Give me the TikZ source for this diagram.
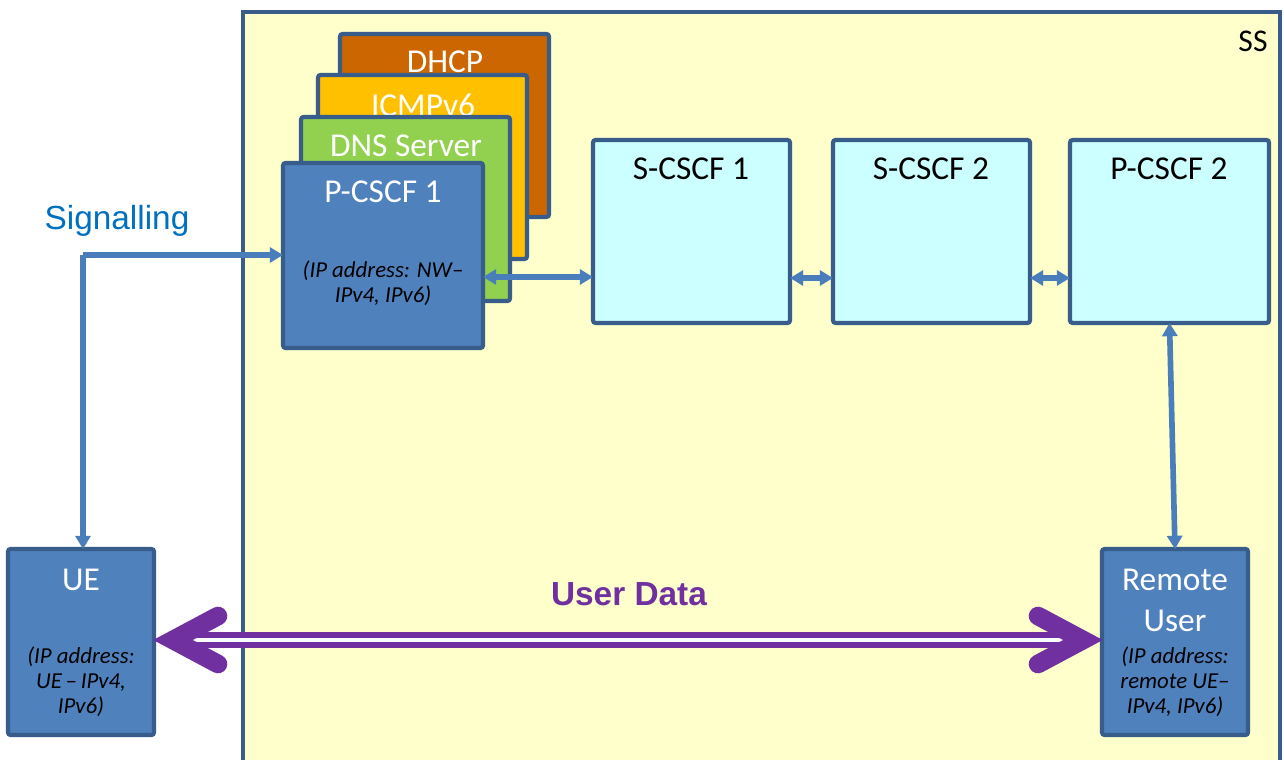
\documentclass[tikz,border=0pt]{standalone}
\usepackage{fontspec}
\setmainfont{Carlito}
\newfontfamily\arialfont{Liberation Sans}
\usetikzlibrary{arrows.meta,fit,calc}
\definecolor{bordblue}{HTML}{385D8A}
\definecolor{pblue}{HTML}{4F81BD}
\definecolor{arrowblue}{HTML}{4A7EBB}
\definecolor{cyanfill}{HTML}{CCFFFF}
\definecolor{ssfill}{HTML}{FFFFCC}
\definecolor{dhcpc}{HTML}{CC6600}
\definecolor{icmpc}{HTML}{FFC000}
\definecolor{dnsc}{HTML}{92D050}
\definecolor{udpurple}{HTML}{7030A0}
\definecolor{sigblue}{HTML}{0070C0}
\tikzset{
  box/.style={draw=bordblue, line width=2.4pt, rounded corners=1.5pt, inner sep=0pt, outer sep=0pt},
  ssbox/.style={draw=bordblue, fill=ssfill, line width=2.6pt, inner sep=0pt, outer sep=0pt},
  ttl/.style={font=\fontsize{19}{23}\selectfont, anchor=base, inner sep=0pt},
  itl/.style={font=\itshape\fontsize{13}{15}\selectfont, anchor=base, inner sep=0pt},
  sigarrow/.style={draw=arrowblue, line width=3.2pt, -{Triangle[length=7.5pt,width=8.5pt]}},
  dblarrow/.style={draw=arrowblue, line width=3.2pt, {Triangle[length=7.5pt,width=8.5pt]}-{Triangle[length=7.5pt,width=8.5pt]}},
  udline/.style={draw=udpurple, line width=3.4pt, double=white, double distance=2.6pt},
  chev/.style={draw=udpurple, line width=10.6pt, line cap=round, line join=miter}
}
\begin{document}
\begin{tikzpicture}[x=0.02cm,y=-0.02cm]
\clip (0,0) rectangle (1284,760);
\fill[white] (0,0) rectangle (1284,760);
% SS area
\node[ssbox, fit={(243,12) (1280,800)}] (ss) {};
\node[font=\fontsize{18}{20}\selectfont, anchor=base, inner sep=0pt] (sslabel) at (1253,52) {SS};
% stacked boxes
\node[box, fill=dhcpc, fit={(340,34) (549,217)}] (dhcp) {};
\node[ttl, text=white] (tdhcp) at (445,73) {DHCP};
\node[box, fill=icmpc, fit={(318,75) (527,259)}] (icmp) {};
\node[ttl, text=white] (ticmp) at (423,117) {ICMPv6};
\node[box, fill=dnsc, fit={(301,117) (510,301)}] (dns) {};
\node[ttl, text=white] (tdns) at (406,157) {DNS Server};
\node[box, fill=pblue, fit={(283,163) (483,348)}] (pc1) {};
\node[ttl, text=white] (tpc1) at (383,203) {P-CSCF 1};
\node[itl] (ipc1a) at (383,277) {(IP address: NW–};
\node[itl] (ipc1b) at (383,302) {IPv4, IPv6)};
% CSCF boxes
\node[box, fill=cyanfill, fit={(593,140) (790,323)}] (s1) {};
\node[ttl] (ts1) at (691,180) {S-CSCF 1};
\node[box, fill=cyanfill, fit={(833,140) (1030,323)}] (s2) {};
\node[ttl] (ts2) at (931,180) {S-CSCF 2};
\node[box, fill=cyanfill, fit={(1070,140) (1269,323)}] (p2) {};
\node[ttl] (tp2) at (1169,180) {P-CSCF 2};
% UE
\node[box, fill=pblue, fit={(8,549) (154,735)}] (ue) {};
\node[ttl, text=white] (tue) at (81,590) {UE};
\node[itl] (iue1) at (81,663) {(IP address:};
\node[itl] (iue2) at (81,688) {UE\,–\,IPv4,};
\node[itl] (iue3) at (81,713) {IPv6)};
% Remote user
\node[box, fill=pblue, fit={(1102,549) (1248,735)}] (ru) {};
\node[ttl, text=white] (tru1) at (1175,590) {Remote};
\node[ttl, text=white] (tru2) at (1175,631) {User};
\node[itl] (iru1) at (1175,663) {(IP address:};
\node[itl] (iru2) at (1175,688) {remote UE–};
\node[itl] (iru3) at (1175,713) {IPv4, IPv6)};
% labels
\node[font=\arialfont\fontsize{19}{23}\selectfont, text=sigblue, anchor=base, inner sep=0pt] (siglabel) at (117,230) {Signalling};
\node[font=\arialfont\bfseries\fontsize{19}{23}\selectfont, text=udpurple, anchor=base, inner sep=0pt] (udlabel) at (629,605) {User Data};
% connectors
\coordinate (sig) at (83,255);
\coordinate (row1) at (0,277);
\coordinate (row2) at (0,278);
\coordinate (ud) at (0,640);
\draw[sigarrow] (sig) -- (sig -| pc1.west);
\draw[sigarrow] (sig) -- (sig |- ue.north);
\draw[dblarrow] (pc1.east |- row1) -- (s1.west |- row1);
\draw[dblarrow] (s1.east |- row2) -- (s2.west |- row2);
\draw[dblarrow] (s2.east |- row2) -- (p2.west |- row2);
\draw[dblarrow] (p2.south) -- (ru.north);
% user data double arrow
\draw[udline] ($(ue.east |- ud)+(30,0)$) -- ($(ru.west |- ud)+(-30,0)$);
\draw[chev] ($(ue.east |- ud)+(64,-24)$) -- ($(ue.east |- ud)+(19,0)$) -- ($(ue.east |- ud)+(64,24)$);
\draw[chev] ($(ru.west |- ud)+(-64,-24)$) -- ($(ru.west |- ud)+(-19,0)$) -- ($(ru.west |- ud)+(-64,24)$);
\end{tikzpicture}
\end{document}
